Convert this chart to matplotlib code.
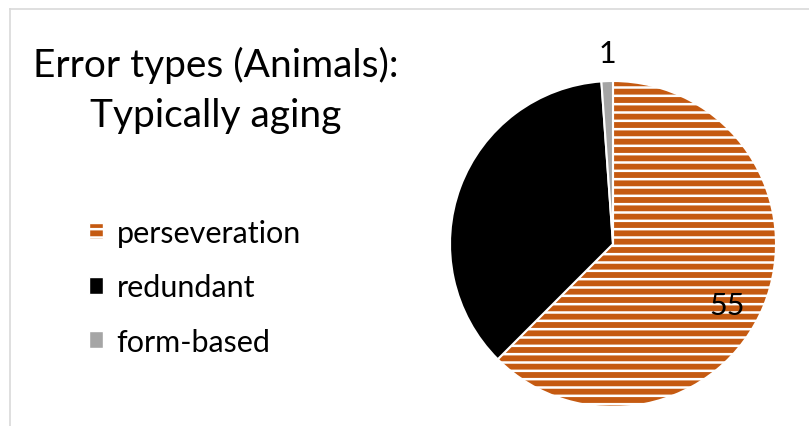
import matplotlib.pyplot as plt
import matplotlib.patches as mpatches
import numpy as np

plt.rcParams['font.family'] = ['Lato', 'DejaVu Sans']
plt.rcParams['hatch.linewidth'] = 1.8

categories = ['perseveration', 'redundant', 'form-based']
counts = [55, 32, 1]
colors = ['#C55A11', '#000000', '#A5A5A5']
hatches = ['--', None, None]
label_dist = [0.8, 0.7, 1.17]
label_nudge = [(-6, -11), (0, 0), (1, 0)]  # pixel nudges for the data labels

W, H = 809, 427
fig = plt.figure(figsize=(W / 100, H / 100), dpi=100)

# chart frame (only left/top visible in the reference)
fig.add_artist(plt.Line2D([9.5 / W, 9.5 / W], [0, 1 - 9.5 / H], color='#D9D9D9', lw=1.2))
fig.add_artist(plt.Line2D([9.5 / W, 1], [1 - 9.5 / H, 1 - 9.5 / H], color='#D9D9D9', lw=1.2))

cx, cy, r = 613, 245, 163
ax = fig.add_axes([(cx - r) / W, (H - cy - r) / H, 2 * r / W, 2 * r / H])
wedges, _ = ax.pie(counts, colors=colors, startangle=90, counterclock=False,
                   radius=1, wedgeprops=dict(edgecolor='white', linewidth=1.5))
for w, h in zip(wedges, hatches):
    if h:
        w.set_hatch(h)
ax.set_xlim(-1, 1)
ax.set_ylim(-1, 1)
ax.set_aspect('equal')
ax.axis('off')

# data labels (redundant label is black on black, as in the original)
for w, v, d, nd in zip(wedges, counts, label_dist, label_nudge):
    ang = np.deg2rad((w.theta1 + w.theta2) / 2)
    ax.annotate(str(v), (d * np.cos(ang), d * np.sin(ang)),
                xytext=(nd[0] * 0.72, nd[1] * 0.72), textcoords='offset points',
                ha='center', va='center', fontsize=22, color='black', annotation_clip=False)

fig.text(216 / W, 1 - 77 / H, 'Error types (Animals):', ha='center', va='baseline', fontsize=28)
fig.text(216 / W, 1 - 127 / H, 'Typically aging', ha='center', va='baseline', fontsize=28)

handles = [mpatches.Patch(facecolor=c, edgecolor='white', hatch=h, label=l)
           for c, h, l in zip(colors, hatches, categories)]
fig.legend(handles=handles, loc='upper left', bbox_to_anchor=(89 / W, 1 - 220 / H),
           frameon=False, fontsize=22, handlelength=0.45, handleheight=0.45,
           handletextpad=0.45, labelspacing=0.86, borderpad=0, borderaxespad=0)

fig.savefig('out.png', dpi=100)
